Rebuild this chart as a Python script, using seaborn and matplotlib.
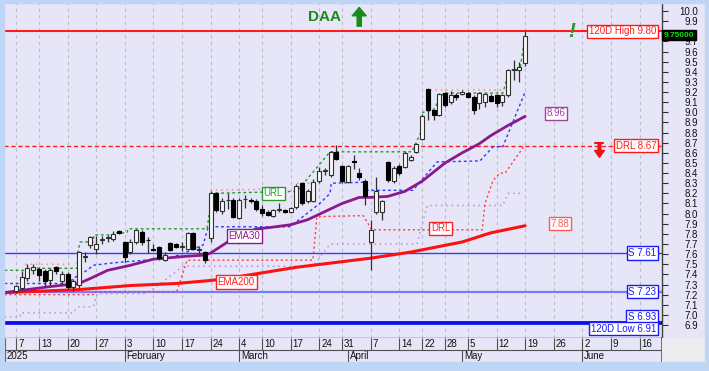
import numpy as np
import pandas as pd
import matplotlib
matplotlib.use("Agg")
import matplotlib.pyplot as plt
from matplotlib.patches import Rectangle
import seaborn as sns

sns.set_theme(style="white")
plt.rcParams['font.family'] = ['Liberation Sans', 'DejaVu Sans']

W, H = 709, 371
BG = '#e6e6f8'
EDGE = '#bfd5f5'

# trading-day index (Jan 2 2025 = 0), one candle per day
day_idx = list(range(2, 92))
opens = [7.24, 7.27, 7.36, 7.44, 7.45, 7.43, 7.34, 7.47, 7.33, 7.40,
         7.28, 7.30, 7.57, 7.69, 7.65, 7.74, 7.76, 7.75, 7.83, 7.72,
         7.62, 7.72, 7.82, 7.74, 7.65, 7.67, 7.54, 7.71, 7.70, 7.67,
         7.65, 7.81, 7.64, 7.62, 7.76, 8.20, 8.03, 8.13, 8.13, 7.96,
         8.14, 8.13, 8.12, 8.05, 8.02, 7.98, 8.04, 8.04, 8.02, 8.07,
         8.30, 8.12, 8.12, 8.32, 8.42, 8.38, 8.61, 8.47, 8.31, 8.52,
         8.40, 8.32, 7.72, 8.02, 8.02, 8.51, 8.32, 8.47, 8.46, 8.53,
         8.61, 8.74, 9.23, 9.02, 8.97, 9.19, 9.10, 9.17, 9.18, 9.19,
         9.15, 9.09, 9.10, 9.16, 9.17, 9.10, 9.17, 9.42, 9.42, 9.49]
highs = [7.30, 7.43, 7.50, 7.50, 7.47, 7.45, 7.46, 7.48, 7.43, 7.42,
         7.35, 7.63, 7.62, 7.78, 7.78, 7.78, 7.79, 7.83, 7.84, 7.73,
         7.75, 7.85, 7.84, 7.77, 7.70, 7.68, 7.62, 7.72, 7.71, 7.72,
         7.82, 7.82, 7.68, 7.63, 8.22, 8.21, 8.15, 8.20, 8.15, 8.15,
         8.18, 8.15, 8.14, 8.08, 8.04, 8.05, 8.10, 8.05, 8.07, 8.29,
         8.31, 8.24, 8.34, 8.46, 8.45, 8.62, 8.68, 8.48, 8.48, 8.58,
         8.45, 8.34, 7.94, 8.36, 8.13, 8.52, 8.47, 8.49, 8.62, 8.58,
         8.70, 8.98, 9.24, 9.03, 9.19, 9.20, 9.21, 9.19, 9.22, 9.20,
         9.17, 9.20, 9.19, 9.18, 9.18, 9.18, 9.43, 9.52, 9.50, 9.80]
lows = [7.22, 7.25, 7.33, 7.40, 7.33, 7.28, 7.30, 7.40, 7.30, 7.26,
        7.24, 7.27, 7.52, 7.66, 7.60, 7.70, 7.72, 7.73, 7.80, 7.52,
        7.60, 7.70, 7.69, 7.61, 7.63, 7.54, 7.53, 7.63, 7.66, 7.63,
        7.64, 7.64, 7.61, 7.51, 7.72, 8.02, 8.00, 8.05, 7.96, 7.95,
        8.06, 8.10, 8.03, 7.98, 7.98, 7.97, 8.02, 8.01, 8.01, 8.05,
        8.08, 8.10, 8.11, 8.30, 8.38, 8.36, 8.53, 8.30, 8.30, 8.44,
        8.33, 8.08, 7.44, 8.00, 7.94, 8.31, 8.30, 8.38, 8.45, 8.52,
        8.60, 8.73, 8.92, 8.92, 8.96, 9.05, 9.08, 9.12, 9.17, 9.14,
        8.98, 9.03, 9.05, 9.10, 9.05, 9.06, 9.15, 9.32, 9.30, 9.46]
closes = [7.29, 7.37, 7.46, 7.47, 7.39, 7.33, 7.44, 7.43, 7.40, 7.28,
          7.33, 7.62, 7.58, 7.77, 7.70, 7.745, 7.765, 7.80, 7.81, 7.57,
          7.72, 7.84, 7.72, 7.735, 7.645, 7.56, 7.59, 7.64, 7.67, 7.675,
          7.81, 7.65, 7.645, 7.54, 8.20, 8.04, 8.12, 8.135, 7.97, 8.13,
          8.145, 8.12, 8.05, 8.01, 7.99, 8.04, 8.045, 8.02, 8.06, 8.27,
          8.10, 8.22, 8.31, 8.42, 8.425, 8.61, 8.54, 8.32, 8.47, 8.51,
          8.36, 8.17, 7.84, 8.22, 8.12, 8.33, 8.45, 8.40, 8.60, 8.56,
          8.69, 8.96, 9.02, 8.97, 9.18, 9.07, 9.17, 9.15, 9.20, 9.15,
          9.02, 9.19, 9.18, 9.11, 9.09, 9.17, 9.42, 9.425, 9.45, 9.75]

# indicator lines (x = trading-day index)
ema30_x = [0, 4, 8, 13, 15, 18, 22, 26, 32, 35, 36, 39, 44, 46, 50, 53, 56, 59, 62, 64,
           67, 70, 73, 77, 80, 83, 85, 88, 91]
ema30_y = [7.22, 7.25, 7.28, 7.31, 7.36, 7.44, 7.49, 7.55, 7.58, 7.59, 7.61, 7.72, 7.85,
           7.86, 7.89, 7.94, 8.02, 8.10, 8.16, 8.16, 8.17, 8.22, 8.32, 8.50, 8.60, 8.69,
           8.77, 8.87, 8.96]
ema200_x = [0, 13, 22, 30, 36, 39, 51, 64, 71, 80, 85, 91]
ema200_y = [7.22, 7.25, 7.29, 7.31, 7.34, 7.36, 7.47, 7.56, 7.62, 7.72, 7.81, 7.88]
blue_x = [0, 10.9, 12.6, 14.4, 15.5, 18.4, 20.2, 28.9, 31.8, 34.7, 35.6, 49.9, 55.1,
          56.9, 57.1, 63, 63.4, 71.4, 75.6, 83.1, 85.4, 87.1, 91]
blue_y = [7.31, 7.31, 7.38, 7.44, 7.49, 7.51, 7.52, 7.56, 7.62, 7.69, 7.87, 7.87, 8.10,
          8.20, 8.30, 8.31, 8.23, 8.23, 8.51, 8.52, 8.66, 8.66, 9.20]
green_x = [0, 3.9, 4.1, 12.7, 12.8, 13.2, 15.5, 15.6, 19, 19.1, 21.4, 21.6, 35.4, 36.3,
           51.1, 56.9, 71.2, 73, 73.1, 74.9, 76.6, 77.3, 87.1, 88.3, 90.1, 91]
green_y = [7.44, 7.44, 7.46, 7.46, 7.62, 7.72, 7.72, 7.79, 7.79, 7.81, 7.81, 7.85, 7.85,
           8.20, 8.22, 8.61, 8.61, 8.83, 9.00, 9.02, 9.18, 9.19, 9.19, 9.42, 9.42, 9.76]
drl_x = [0, 15.5, 15.6, 30.1, 31.9, 53.9, 54.6, 62.7, 64.2, 83.5, 84, 85.4, 86.6, 87.5, 91]
drl_y = [7.20, 7.20, 7.23, 7.23, 7.54, 7.54, 7.97, 7.98, 7.84, 7.84, 8.10, 8.33, 8.40,
         8.40, 8.68]
lilac_x = [0, 2.7, 2.8, 12, 12.7, 15.5, 16.2, 24.9, 31.2, 53.9, 56.9, 72.1, 73.9, 87.1,
           88, 90.5]
lilac_y = [6.98, 6.98, 7.02, 7.02, 7.08, 7.08, 7.21, 7.21, 7.48, 7.48, 7.70, 7.70, 8.08,
           8.08, 8.20, 8.20]
res_x = [3.6, 12, np.nan, 36, 44.7, np.nan, 51.1, 54.6, np.nan, 74.4, 87.1]
res_y = [7.50, 7.50, np.nan, 8.23, 8.24, np.nan, 8.30, 8.30, np.nan, 9.22, 9.22]

# axis labels
week_idx = [2, 6, 11, 16, 21, 26, 31, 36, 41, 45, 50, 55, 59, 64, 69, 73, 77, 81, 86, 91,
            96, 101, 106, 111]
week_lbl = ['7', '13', '20', '27', '3', '10', '17', '24', '4', '10', '17', '24', '31', '7',
            '14', '22', '28', '5', '12', '19', '26', '2', '9', '16']
month_idx = [0, 21, 41, 60, 80, 101]
month_lbl = ['2025', 'February', 'March', 'April', 'May', 'June']
yticks = np.round(np.arange(6.9, 10.01, 0.1), 1)

df = pd.DataFrame({'day': day_idx, 'open': opens, 'high': highs, 'low': lows, 'close': closes})

fig = plt.figure(figsize=(W / 100, H / 100), dpi=100, facecolor=BG)
ax = fig.add_axes([4 / W, (H - 338) / H, (661.7 - 4) / W, 335 / H])
ax.set_facecolor(BG)

# candles
up = df['close'] >= df['open']
body_lo = df[['open', 'close']].min(axis=1)
body_h = (df['close'] - df['open']).abs().clip(lower=0.008)
ax.vlines(df['day'], df['low'], df['high'], color='#303030', lw=0.9, zorder=6)
ax.bar(df['day'][up], body_h[up], bottom=body_lo[up], width=0.7, color='#f6f6f6',
       edgecolor='#303030', lw=0.8, zorder=7)
ax.bar(df['day'][~up], body_h[~up], bottom=body_lo[~up], width=0.7, color='black',
       edgecolor='black', lw=0.8, zorder=7)

# horizontal levels
ax.axhline(9.80, color='#ff1a1a', lw=1.5, zorder=4)
ax.axhline(8.67, color='#ff1a1a', lw=1.0, ls=(0, (3, 2)), zorder=4)
ax.axhline(7.61, color='#3a3aff', lw=1.0, zorder=4)
ax.axhline(7.23, color='#7a7aff', lw=1.6, zorder=4)
ax.axhline(6.93, color='#0a0af0', lw=2.0, zorder=4)
ax.axhline(6.91, color='#0a0af0', lw=1.2, zorder=4)

# indicator lines
sns.lineplot(x=lilac_x, y=lilac_y, ax=ax, color='#c58ad0', lw=1.1, ls=(0, (1, 2.5)),
             estimator=None, sort=False, zorder=4)
sns.lineplot(x=drl_x, y=drl_y, ax=ax, color='#ff3a3a', lw=1.0, ls=(0, (1.5, 2)),
             estimator=None, sort=False, zorder=4)
ax.plot(res_x, res_y, color='#ff8a8a', lw=1.1, ls=(0, (1, 2.5)), zorder=4)
sns.lineplot(x=blue_x, y=blue_y, ax=ax, color='#2a3aff', lw=1.0, ls=(0, (2, 2)),
             estimator=None, sort=False, zorder=4)
sns.lineplot(x=green_x, y=green_y, ax=ax, color='#2a9a2a', lw=1.0, ls=(0, (2, 2)),
             estimator=None, sort=False, zorder=5)
sns.lineplot(x=ema200_x, y=ema200_y, ax=ax, color='#ff1010', lw=2.2,
             estimator=None, sort=False, zorder=5)
sns.lineplot(x=ema30_x, y=ema30_y, ax=ax, color='#8a1a8a', lw=2.0,
             estimator=None, sort=False, zorder=5)

ax.set_xlim(-0.105, 114.88)
ax.set_ylim(6.772, 10.079)
ax.set_xticks(week_idx)
ax.grid(axis='x', color='#bcbcc4', ls=(0, (3, 3)), lw=0.8)
ax.grid(axis='y', visible=False)
ax.set_axisbelow(True)
ax.tick_params(axis='x', bottom=False, labelbottom=False)
ax.yaxis.tick_right()
ax.set_yticks(yticks)
# the 9.8 label sits under the last-price tag
ax.set_yticklabels(['' if v == 9.8 else f'{v:.1f}' for v in yticks])
ax.tick_params(axis='y', right=True, length=4, width=0.8, color='#303030',
               labelsize=7, pad=22, labelcolor='#111111')
for lab in ax.get_yticklabels():
    lab.set_horizontalalignment('right')
for s in ['top', 'left']:
    ax.spines[s].set_visible(False)
for s in ['right', 'bottom']:
    ax.spines[s].set_color('#404040')
    ax.spines[s].set_linewidth(1.0)
ax.set_xlabel('')
ax.set_ylabel('')


def box(x, y, s, c, trans=None, ha='center'):
    kw = dict(transform=trans) if trans is not None else {}
    ax.text(x, y, s, color=c, fontsize=7, ha=ha, va='center', zorder=9,
            bbox=dict(boxstyle='square,pad=0.18', fc='white', ec=c, lw=1.0), **kw)


yt = ax.get_yaxis_transform()
box(0.992, 9.80, '120D High 9.80', '#ff1a1a', yt, 'right')
box(0.992, 8.67, 'DRL 8.67', '#ff1a1a', yt, 'right')
box(0.992, 7.61, 'S 7.61', '#1a1aff', yt, 'right')
box(0.992, 7.23, 'S 7.23', '#1a1aff', yt, 'right')
box(0.992, 6.98, 'S 6.93', '#1a1aff', yt, 'right')
box(0.992, 6.865, '120D Low 6.91', '#1a1aff', yt, 'right')
box(96.4, 8.99, '8.96', '#a040a0')
box(97.1, 7.90, '7.88', '#ff5a5a')
box(47, 8.20, 'URL', '#2a9a2a')
box(41.9, 7.78, 'EMA30', '#8a1a8a')
box(40.5, 7.325, 'EMA200', '#ff2020')
box(76.2, 7.853, 'DRL', '#ff2020')

# price tag
ax.text(1.0035, 9.76, '9.75000', transform=yt, ha='left', va='center', fontsize=6,
        fontweight='bold', color='#10e010', clip_on=False, zorder=10,
        bbox=dict(boxstyle='square,pad=0.2', fc='black', ec='black'))

# signal marks
ax.text(56.0, 9.944, 'DAA', fontsize=11, fontweight='bold', color='#1a8a1a',
        ha='center', va='center', zorder=9)
ax.annotate('', xy=(62.0, 10.035), xytext=(62.0, 9.85),
            arrowprops=dict(facecolor='#1a8a1a', edgecolor='#1a8a1a', width=3,
                            headwidth=10, headlength=6, shrink=0))
ax.text(99.2, 9.80, '!', fontsize=15, fontweight='bold', fontstyle='italic',
        color='#2a9a2a', ha='center', va='center', zorder=9)
ax.annotate('', xy=(104.0, 8.555), xytext=(104.0, 8.70),
            arrowprops=dict(facecolor='#ee1111', edgecolor='#ee1111', width=2,
                            headwidth=7, headlength=5, shrink=0))
ax.plot([103.3, 104.7], [8.70, 8.70], color='#ee1111', lw=1.5, zorder=9)

# date band
axd = fig.add_axes([4 / W, (H - 362) / H, (661.7 - 4) / W, 24 / H])
axd.set_facecolor(BG)
axd.set_xlim(ax.get_xlim())
axd.set_ylim(0, 2)
axd.set_xticks([])
axd.set_yticks([])
for s in ['top', 'left', 'bottom']:
    axd.spines[s].set_visible(False)
axd.spines['right'].set_color('#404040')
axd.axhline(1, color='#505050', lw=0.8)
axd.vlines(week_idx, 1, 2, color='#505050', lw=0.8)
axd.vlines(month_idx, 0, 1, color='#505050', lw=0.8)
axd.vlines([0.07], 0, 2, color='#505050', lw=0.8)
for xi, s in zip(week_idx, week_lbl):
    axd.text(xi + 0.35, 1.5, s, fontsize=7, ha='left', va='center', color='#111111')
for xi, s in zip(month_idx, month_lbl):
    axd.text(xi + 0.35, 0.5, s, fontsize=7, ha='left', va='center', color='#111111')

# frame strips
fig.patches.append(Rectangle((661.7 / W, 9 / H), 43.3 / W, 24 / H, transform=fig.transFigure,
                             color='#ececf0', zorder=0))
for r in [(0, 0, 1, 9 / H), (0, 0, 4 / W, 1), (0, 1 - 3 / H, 1, 3 / H), (705 / W, 0, 4 / W, 1)]:
    fig.patches.append(Rectangle(r[:2], r[2], r[3], transform=fig.transFigure,
                                 color=EDGE, zorder=0))

fig.savefig('out.png', dpi=100, facecolor=BG)
